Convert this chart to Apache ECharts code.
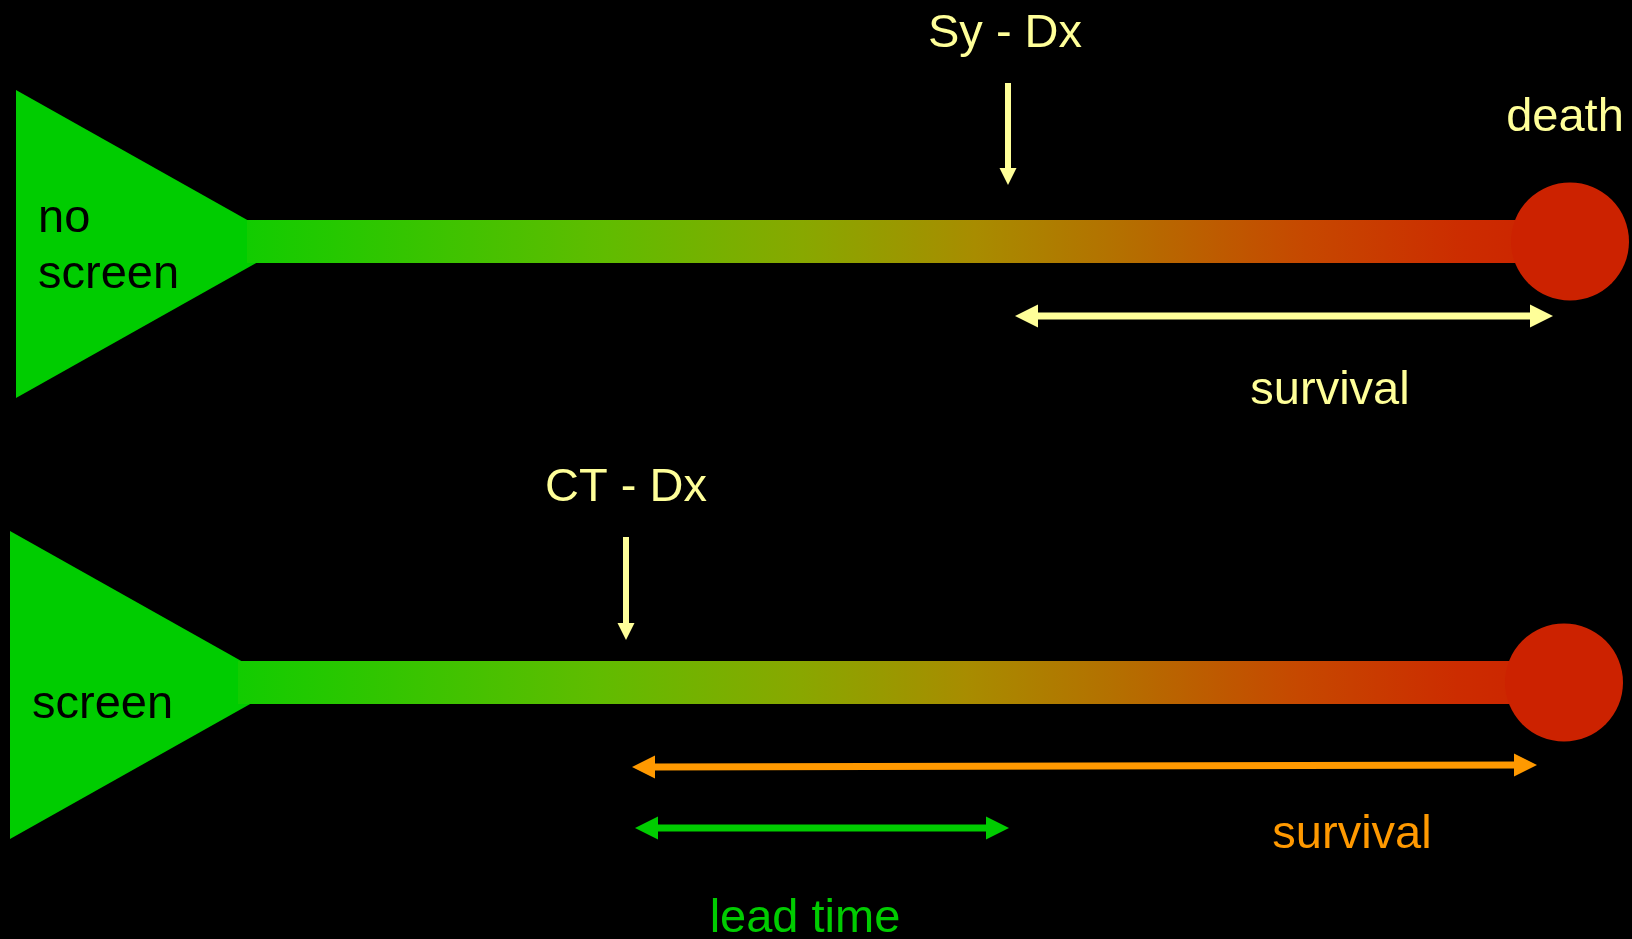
<!DOCTYPE html>
<html>
<head>
<meta charset="utf-8">
<script src="https://cdn.jsdelivr.net/npm/echarts@6/dist/echarts.min.js"></script>
<style>
  html, body { margin: 0; padding: 0; background: #000; }
  #chart { width: 1632px; height: 939px; }
</style>
</head>
<body>
<div id="chart"></div>
<script>
// ---- data (timeline units on x, lane units on y) ----
const lanes = ['no screen', 'screen'];
const laneText = [['no', 'screen'], ['screen']];
const laneY = [241.5, 682.5];
const onsetX = [16, 10];
const barStartX = [247, 238];
const deathX = [1570, 1564];

const diagnosisNames = ['Sy - Dx', 'CT - Dx'];
const diagnosisX = [1008, 626];
const diagnosisArrowTop = [83, 537];
const diagnosisArrowTip = [185, 640];

const survivalStart = [1015, 632];
const survivalEnd = [1553, 1537];
const survivalYStart = [316, 767];
const survivalYEnd = [316, 765];

const leadTimeStart = [635];
const leadTimeEnd = [1009];
const leadTimeY = [828];

const annotationTexts = ['Sy - Dx', 'death', 'survival', 'CT - Dx', 'survival', 'lead time'];
const annotationX = [1005, 1565, 1330, 626, 1352, 805];
const annotationBaseline = [47, 131, 404, 501, 848, 932];

// ---- styles ----
const YELLOW = '#FFFF99';
const ORANGE = '#FF9900';
const GREEN = '#00CC00';
const RED = '#CC2200';
const FONT = '"Liberation Sans", Arial, sans-serif';
const BASE_SHIFT = 13;
const annotationColors = [YELLOW, YELLOW, YELLOW, YELLOW, ORANGE, GREEN];

const chart = echarts.init(document.getElementById('chart'));

function laneItem(params, api) {
  const i = params.dataIndex;
  const cy = api.value(1);
  const base = api.coord([api.value(0), cy + 2.5]);
  const bs = api.coord([api.value(2), cy]);
  const de = api.coord([api.value(3), cy]);
  const triW = 274, triH = 154, barH = 21.5, r = 59;
  const children = [];
  children.push({
    type: 'polygon',
    shape: { points: [[base[0], base[1] - triH], [base[0] + triW, base[1]], [base[0], base[1] + triH]] },
    style: { fill: GREEN }
  });
  children.push({
    type: 'rect',
    shape: { x: bs[0], y: bs[1] - barH, width: de[0] - bs[0], height: barH * 2 },
    style: {
      fill: new echarts.graphic.LinearGradient(0, 0, 1, 0, [
        { offset: 0, color: '#12cc00' },
        { offset: 0.27, color: '#60bc00' },
        { offset: 0.42, color: '#88a800' },
        { offset: 0.55, color: '#a88c00' },
        { offset: 0.66, color: '#b47000' },
        { offset: 0.80, color: '#c64800' },
        { offset: 0.92, color: '#cc2c00' },
        { offset: 1, color: RED }
      ])
    }
  });
  children.push({
    type: 'circle',
    shape: { cx: de[0], cy: de[1], r: r },
    style: { fill: RED }
  });
  const lines = laneText[i];
  const lx = base[0] + 22;
  const firstBase = i === 0 ? 232 : 718;
  lines.forEach(function (t, k) {
    const p = api.coord([0, firstBase + k * 56]);
    children.push({
      type: 'text',
      style: {
        text: t, x: lx, y: p[1] - BASE_SHIFT, fill: '#000',
        fontSize: 47, fontFamily: FONT, align: 'left', verticalAlign: 'middle'
      }
    });
  });
  return { type: 'group', children: children };
}

function arrowItem(params, api) {
  const p1 = api.coord([api.value(0), api.value(1)]);
  const p2 = api.coord([api.value(2), api.value(3)]);
  const both = api.value(4) === 1;
  const color = [YELLOW, ORANGE, GREEN][api.value(5)];
  const lw = api.value(6);
  const hw = api.value(7);
  const hl = api.value(8);
  const dx = p2[0] - p1[0], dy = p2[1] - p1[1];
  const len = Math.sqrt(dx * dx + dy * dy);
  const ux = dx / len, uy = dy / len;
  const nx = -uy, ny = ux;
  const s = both ? [p1[0] + ux * hl * 0.9, p1[1] + uy * hl * 0.9] : p1;
  const e = [p2[0] - ux * hl * 0.9, p2[1] - uy * hl * 0.9];
  const children = [{
    type: 'line',
    shape: { x1: s[0], y1: s[1], x2: e[0], y2: e[1] },
    style: { stroke: color, lineWidth: lw }
  }];
  function head(tip, dirx, diry) {
    const bx = tip[0] - dirx * hl, by = tip[1] - diry * hl;
    return {
      type: 'polygon',
      shape: { points: [tip, [bx + nx * hw / 2, by + ny * hw / 2], [bx - nx * hw / 2, by - ny * hw / 2]] },
      style: { fill: color }
    };
  }
  children.push(head(p2, ux, uy));
  if (both) children.push(head(p1, -ux, -uy));
  return { type: 'group', children: children };
}

function textItem(params, api) {
  const i = params.dataIndex;
  const p = api.coord([api.value(0), api.value(1)]);
  return {
    type: 'text',
    style: {
      text: annotationTexts[i], x: p[0], y: p[1] - BASE_SHIFT,
      fill: annotationColors[i], fontSize: 47, fontFamily: FONT,
      align: 'center', verticalAlign: 'middle'
    }
  };
}

const laneData = lanes.map(function (n, i) {
  return [onsetX[i], laneY[i], barStartX[i], deathX[i]];
});

const arrowData = [];
diagnosisX.forEach(function (x, i) {
  arrowData.push([x, diagnosisArrowTop[i], x, diagnosisArrowTip[i], 0, 0, 6, 17, 17]);
});
survivalStart.forEach(function (x, i) {
  arrowData.push([x, survivalYStart[i], survivalEnd[i], survivalYEnd[i], 1, i === 0 ? 0 : 1, 7, 23, 23]);
});
leadTimeStart.forEach(function (x, i) {
  arrowData.push([x, leadTimeY[i], leadTimeEnd[i], leadTimeY[i], 1, 2, 7, 23, 23]);
});

const textData = annotationTexts.map(function (t, i) {
  return [annotationX[i], annotationBaseline[i]];
});

chart.setOption({
  backgroundColor: '#000',
  animation: false,
  grid: { left: 0, right: 0, top: 0, bottom: 0 },
  xAxis: { type: 'value', min: 0, max: 1632, show: false },
  yAxis: { type: 'value', min: 0, max: 939, inverse: true, show: false },
  series: [
    { type: 'custom', renderItem: laneItem, data: laneData, silent: true, z: 1 },
    { type: 'custom', renderItem: arrowItem, data: arrowData, silent: true, z: 2 },
    { type: 'custom', renderItem: textItem, data: textData, silent: true, z: 3 }
  ]
});
</script>
</body>
</html>
